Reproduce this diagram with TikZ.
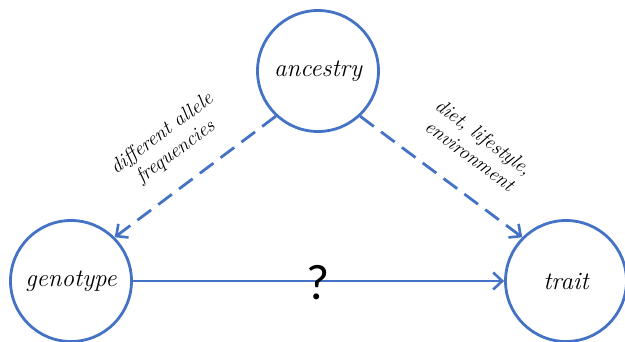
\documentclass[tikz,border=0pt]{standalone}
\usepackage{fontspec}
\newfontfamily\qfont{Carlito}
\usetikzlibrary{arrows.meta}
\definecolor{ublue}{HTML}{4472C4}
\tikzset{
  bubble/.style={circle,draw=ublue,line width=2.8pt,minimum size=121pt,inner sep=0pt,font=\fontsize{25}{29}\selectfont\itshape},
  link/.style={draw=ublue,line width=2.8pt,-{Straight Barb[length=9pt,width=17pt,line width=2.6pt]}},
  dlink/.style={link,dash pattern=on 17pt off 9pt},
  lab/.style={font=\fontsize{20}{23}\selectfont\itshape,align=center,inner sep=0pt}
}
\begin{document}
\begin{tikzpicture}[x=1pt,y=-1pt]
\useasboundingbox (0,0) rectangle (625,341);
\node[bubble] (anc) at (318,71) {ancestry};
\node[bubble] (gen) at (71,281) {genotype};
\node[bubble] (tra) at (566,281) {trait};
\draw[dlink] (anc.227) -- (gen.45);
\draw[dlink] (anc.-47) -- (tra.135);
\draw[link] (gen) -- (tra);
\node[lab,rotate=36.6] (l1) at (169,143) {different allele\\frequencies};
\node[lab,rotate=-36.6] (l2) at (477,146) {diet, lifestyle,\\environment};
\node[font=\qfont\fontsize{50}{52}\selectfont,inner sep=0pt] (q) at (318,283) {?};
\end{tikzpicture}
\end{document}
